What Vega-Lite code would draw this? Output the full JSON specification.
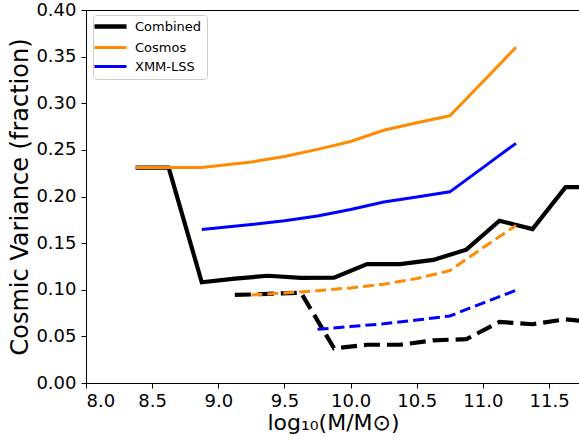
{
  "$schema": "https://vega.github.io/schema/vega-lite/v6.json",
  "width": 494,
  "height": 373,
  "autosize": {"type": "none"},
  "padding": {"left": 86, "top": 10, "right": 0, "bottom": 56},
  "background": "white",
  "config": {
    "view": {"stroke": "black", "strokeWidth": 1},
    "font": "DejaVu Sans",
    "axis": {
      "grid": false,
      "domainColor": "black",
      "tickColor": "black",
      "tickSize": 5,
      "labelFont": "DejaVu Sans",
      "labelFontSize": 18,
      "labelColor": "black",
      "labelPadding": 4,
      "titleFont": "DejaVu Sans",
      "titleFontSize": 24,
      "titleFontWeight": "normal",
      "titleColor": "black"
    }
  },
  "datasets": {
    "solid": [
      {"series": "Combined", "x": 8.375, "y": 0.231},
      {"series": "Combined", "x": 8.625, "y": 0.231},
      {"series": "Combined", "x": 8.875, "y": 0.108},
      {"series": "Combined", "x": 9.125, "y": 0.112},
      {"series": "Combined", "x": 9.375, "y": 0.115},
      {"series": "Combined", "x": 9.625, "y": 0.1128},
      {"series": "Combined", "x": 9.875, "y": 0.113},
      {"series": "Combined", "x": 10.125, "y": 0.1275},
      {"series": "Combined", "x": 10.375, "y": 0.1275},
      {"series": "Combined", "x": 10.625, "y": 0.132},
      {"series": "Combined", "x": 10.875, "y": 0.143},
      {"series": "Combined", "x": 11.125, "y": 0.174},
      {"series": "Combined", "x": 11.375, "y": 0.165},
      {"series": "Combined", "x": 11.625, "y": 0.21},
      {"series": "Combined", "x": 11.875, "y": 0.21},
      {"series": "Cosmos", "x": 8.375, "y": 0.231},
      {"series": "Cosmos", "x": 8.875, "y": 0.231},
      {"series": "Cosmos", "x": 9.25, "y": 0.237},
      {"series": "Cosmos", "x": 9.5, "y": 0.243},
      {"series": "Cosmos", "x": 9.75, "y": 0.2505},
      {"series": "Cosmos", "x": 10.0, "y": 0.259},
      {"series": "Cosmos", "x": 10.25, "y": 0.271},
      {"series": "Cosmos", "x": 10.5, "y": 0.279},
      {"series": "Cosmos", "x": 10.75, "y": 0.2865},
      {"series": "Cosmos", "x": 11.0, "y": 0.323},
      {"series": "Cosmos", "x": 11.25, "y": 0.36},
      {"series": "XMM-LSS", "x": 8.875, "y": 0.1645},
      {"series": "XMM-LSS", "x": 9.25, "y": 0.17},
      {"series": "XMM-LSS", "x": 9.5, "y": 0.174},
      {"series": "XMM-LSS", "x": 9.75, "y": 0.179},
      {"series": "XMM-LSS", "x": 10.0, "y": 0.186},
      {"series": "XMM-LSS", "x": 10.25, "y": 0.194},
      {"series": "XMM-LSS", "x": 10.5, "y": 0.1995},
      {"series": "XMM-LSS", "x": 10.75, "y": 0.205},
      {"series": "XMM-LSS", "x": 11.0, "y": 0.231},
      {"series": "XMM-LSS", "x": 11.25, "y": 0.257}
    ],
    "dashed": [
      {"series": "Combined", "x": 9.125, "y": 0.0944},
      {"series": "Combined", "x": 9.375, "y": 0.0955},
      {"series": "Combined", "x": 9.625, "y": 0.0969},
      {"series": "Combined", "x": 9.875, "y": 0.0372},
      {"series": "Combined", "x": 10.125, "y": 0.041},
      {"series": "Combined", "x": 10.375, "y": 0.041},
      {"series": "Combined", "x": 10.625, "y": 0.0458},
      {"series": "Combined", "x": 10.875, "y": 0.047},
      {"series": "Combined", "x": 11.125, "y": 0.0655},
      {"series": "Combined", "x": 11.375, "y": 0.063},
      {"series": "Combined", "x": 11.625, "y": 0.0683},
      {"series": "Combined", "x": 11.875, "y": 0.065},
      {"series": "Cosmos", "x": 9.25, "y": 0.0944},
      {"series": "Cosmos", "x": 9.5, "y": 0.0965},
      {"series": "Cosmos", "x": 9.75, "y": 0.099},
      {"series": "Cosmos", "x": 10.0, "y": 0.102},
      {"series": "Cosmos", "x": 10.25, "y": 0.106},
      {"series": "Cosmos", "x": 10.5, "y": 0.112},
      {"series": "Cosmos", "x": 10.75, "y": 0.1204},
      {"series": "Cosmos", "x": 11.0, "y": 0.145},
      {"series": "Cosmos", "x": 11.25, "y": 0.169},
      {"series": "XMM-LSS", "x": 9.75, "y": 0.0576},
      {"series": "XMM-LSS", "x": 10.0, "y": 0.0605},
      {"series": "XMM-LSS", "x": 10.25, "y": 0.0635},
      {"series": "XMM-LSS", "x": 10.5, "y": 0.0675},
      {"series": "XMM-LSS", "x": 10.75, "y": 0.0719},
      {"series": "XMM-LSS", "x": 11.0, "y": 0.0857},
      {"series": "XMM-LSS", "x": 11.25, "y": 0.0995}
    ]
  },
  "encoding": {
    "x": {
      "field": "x",
      "type": "quantitative",
      "scale": {"domain": [8, 11.734], "nice": false, "zero": false},
      "axis": {
        "title": "log₁₀(M/M⊙)",
        "titleFontSize": 22,
        "values": [8, 8.5, 9, 9.5, 10, 10.5, 11, 11.5],
        "format": ".1f",
        "titlePadding": 2
      }
    },
    "y": {
      "field": "y",
      "type": "quantitative",
      "scale": {"domain": [0, 0.4], "nice": false},
      "axis": {
        "title": "Cosmic Variance (fraction)",
        "values": [0, 0.05, 0.1, 0.15, 0.2, 0.25, 0.3, 0.35, 0.4],
        "format": ".2f",
        "labelPadding": 5,
        "titlePadding": 3
      }
    }
  },
  "layer": [
    {
      "data": {"name": "solid"},
      "transform": [{"filter": "datum.series === 'Combined'"}],
      "mark": {"type": "line", "clip": true, "strokeWidth": 4.2, "strokeCap": "butt", "strokeJoin": "miter"},
      "encoding": {
        "color": {
          "field": "series",
          "type": "nominal",
          "scale": {"domain": ["Combined", "Cosmos", "XMM-LSS"], "range": ["#000000", "#ff8c00", "#0000ff"]},
          "legend": {
            "title": null,
            "orient": "none",
            "legendX": 7,
            "legendY": 5,
            "symbolType": "M-2.5,0H5.5",
            "symbolSize": 64,
            "symbolStrokeWidth": 3,
            "symbolFillColor": "transparent",
            "rowPadding": 5,
            "padding": 5,
            "labelFontSize": 13,
            "labelFont": "DejaVu Sans",
            "labelColor": "black",
            "labelOffset": 24,
            "fillColor": "white",
            "strokeColor": "#cccccc",
            "cornerRadius": 3,
            "encode": {
              "symbols": {
                "update": {
                  "strokeWidth": {"signal": "datum.value === 'Combined' ? 4.5 : 3"},
                  "fill": {"value": "transparent"}
                }
              }
            }
          }
        }
      }
    },
    {
      "data": {"name": "solid"},
      "transform": [{"filter": "datum.series !== 'Combined'"}],
      "mark": {"type": "line", "clip": true, "strokeWidth": 3, "strokeCap": "butt", "strokeJoin": "miter"},
      "encoding": {
        "color": {"field": "series", "type": "nominal"}
      }
    },
    {
      "data": {"name": "dashed"},
      "transform": [{"filter": "datum.series === 'Combined'"}],
      "mark": {"type": "line", "clip": true, "color": "#000000", "strokeWidth": 4.2, "strokeDash": [16, 7], "strokeCap": "butt", "strokeJoin": "miter"}
    },
    {
      "data": {"name": "dashed"},
      "transform": [{"filter": "datum.series === 'Cosmos'"}],
      "mark": {"type": "line", "clip": true, "color": "#ff8c00", "strokeWidth": 3, "strokeDash": [11, 5], "strokeCap": "butt", "strokeJoin": "miter"}
    },
    {
      "data": {"name": "dashed"},
      "transform": [{"filter": "datum.series === 'XMM-LSS'"}],
      "mark": {"type": "line", "clip": true, "color": "#0000ff", "strokeWidth": 3, "strokeDash": [11, 5], "strokeCap": "butt", "strokeJoin": "miter"}
    }
  ]
}
